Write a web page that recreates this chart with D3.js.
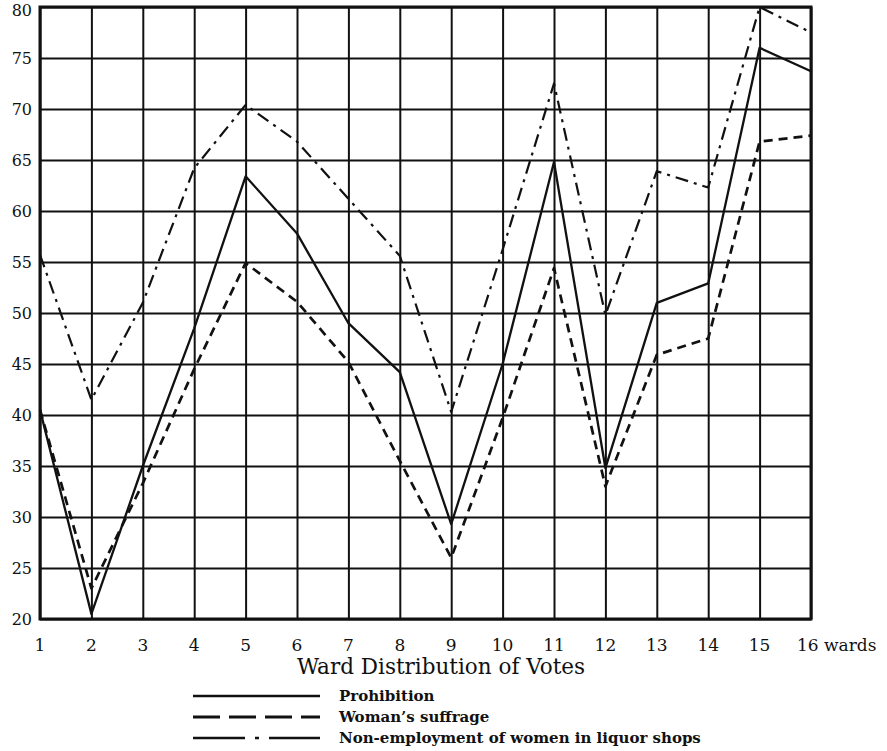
<!DOCTYPE html>
<html>
<head>
<meta charset="utf-8">
<script src="https://cdn.jsdelivr.net/npm/d3@7"></script>
<style>
  body { margin: 0; background: #fff; }
  text { font-family: "DejaVu Serif", "Liberation Serif", serif; fill: #111; }
</style>
</head>
<body>
<div id="chart"></div>
<script>
// ward numbers and vote percentages
const wards = [1, 2, 3, 4, 5, 6, 7, 8, 9, 10, 11, 12, 13, 14, 15, 16];
const prohibition = [40.5, 20.5, 35, 48.5, 63.4, 57.8, 49, 44.2, 29.3, 45, 64.8, 34.8, 51, 52.9, 76, 73.7];
const suffrage = [40.5, 23, 33.3, 44.5, 54.9, 51.1, 45.2, 35.5, 26, 39.7, 54.4, 33, 45.9, 47.5, 66.8, 67.4];
const nonEmployment = [55.7, 41.5, 51, 64.2, 70.4, 66.8, 61.2, 55.6, 40.3, 56.2, 72.5, 49.8, 63.9, 62.3, 80, 77.5];
const yTicks = [20, 25, 30, 35, 40, 45, 50, 55, 60, 65, 70, 75, 80];
const seriesNames = ["Prohibition", "Woman\u2019s suffrage", "Non-employment of women in liquor shops"];

const width = 887, height = 751;
const plotLeft = 40, plotRight = 811, plotTop = 7, plotBottom = 619;

const svg = d3.select("#chart").append("svg")
    .attr("width", width)
    .attr("height", height);

const x = d3.scaleLinear().domain([1, 16]).range([plotLeft, plotRight]);
const y = d3.scaleLinear().domain([20, 80]).range([plotBottom, plotTop]);

// grid: vertical lines for each ward
svg.append("g")
    .attr("transform", `translate(0,${plotBottom})`)
    .call(d3.axisBottom(x).tickValues(wards).tickSize(-(plotBottom - plotTop)).tickFormat(""))
    .call(g => g.select(".domain").remove())
    .call(g => g.selectAll("line").attr("stroke", "#111").attr("stroke-width", 2));

// grid: horizontal lines every 5
svg.append("g")
    .attr("transform", `translate(${plotLeft},0)`)
    .call(d3.axisLeft(y).tickValues(yTicks).tickSize(-(plotRight - plotLeft)).tickFormat(""))
    .call(g => g.select(".domain").remove())
    .call(g => g.selectAll("line").attr("stroke", "#111").attr("stroke-width", 2));

// frame
svg.append("rect")
    .attr("x", plotLeft).attr("y", plotTop)
    .attr("width", plotRight - plotLeft).attr("height", plotBottom - plotTop)
    .attr("fill", "none").attr("stroke", "#111").attr("stroke-width", 3);

// y labels (top one nudged down so it stays inside the page)
svg.selectAll("text.ylab")
    .data(yTicks)
    .enter()
    .append("text")
    .classed("ylab", true)
    .attr("x", 32)
    .attr("y", d => Math.max(y(d) + 6, 16))
    .attr("text-anchor", "end")
    .attr("font-size", 16)
    .text(d => d);

// x labels
svg.selectAll("text.xlab")
    .data(wards)
    .enter()
    .append("text")
    .classed("xlab", true)
    .attr("x", d => d === 16 ? x(d) - 14 : x(d))
    .attr("y", 651)
    .attr("text-anchor", d => d === 16 ? "start" : "middle")
    .attr("font-size", 17)
    .text(d => d === 16 ? "16 wards" : d);

svg.append("text")
    .attr("x", 441)
    .attr("y", 674)
    .attr("text-anchor", "middle")
    .attr("font-size", 21.5)
    .text("Ward Distribution of Votes");

// lines
const line = d3.line().x((d, i) => x(wards[i])).y(d => y(d));
const styles = [
    { dash: null, w: 2.3 },
    { dash: "9,6", w: 2.7 },
    { dash: "13,6,3,6", w: 2.2 }
];
const legendDash = [null, "27,9", "52,10,4,10"];

[prohibition, suffrage, nonEmployment].forEach((s, k) => {
    svg.append("path")
        .datum(s)
        .attr("d", line)
        .attr("fill", "none")
        .attr("stroke", "#111")
        .attr("stroke-width", styles[k].w)
        .attr("stroke-linejoin", "round")
        .attr("stroke-dasharray", styles[k].dash);
});

// legend
const lg = svg.append("g");
seriesNames.forEach((name, k) => {
    const ly = 696 + k * 21;
    lg.append("line")
        .attr("x1", 193).attr("x2", 320)
        .attr("y1", ly).attr("y2", ly)
        .attr("stroke", "#111")
        .attr("stroke-width", k === 1 ? 3 : 2.4)
        .attr("stroke-dasharray", legendDash[k]);
    lg.append("text")
        .attr("x", 339)
        .attr("y", ly + 5)
        .attr("font-size", 15)
        .attr("font-weight", "bold")
        .text(name);
});
</script>
</body>
</html>
